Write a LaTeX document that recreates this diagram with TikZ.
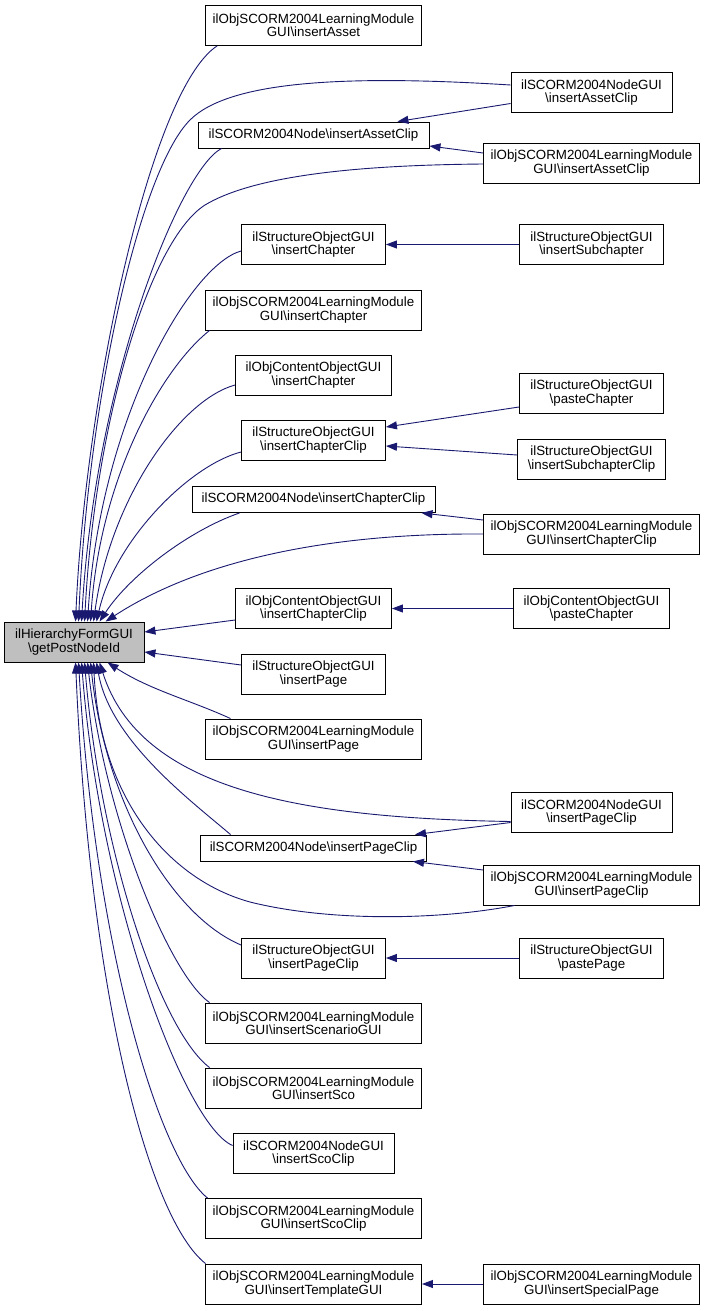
\documentclass[tikz,border=0pt]{standalone}
\usepackage{fontspec}
\setmainfont{Liberation Sans}
\usetikzlibrary{arrows.meta,calc}
\definecolor{navyline}{RGB}{25,25,112}
\definecolor{mainfill}{RGB}{191,191,191}
\begin{document}
\begin{tikzpicture}[x=1pt,y=-1pt,
  box/.style={draw=black, line width=0.9pt, fill=white, inner sep=0pt, align=center,
    minimum height=40pt, font=\fontsize{13.33}{13.33}\selectfont},
  onebox/.style={box, minimum height=26pt},
  conn/.style={draw=navyline, line width=0.9pt, -{Triangle[length=11pt,width=8pt]}}]
\useasboundingbox (0,0) rectangle (705,1311);
% nodes
\node[box, fill=mainfill, minimum width=140pt] (m) at (74,642) {ilHierarchyFormGUI\\\textbackslash getPostNodeId};
\node[box, minimum width=216pt] (n1) at (313.5,25.5) {ilObjSCORM2004LearningModule\\GUI\textbackslash insertAsset};
\node[box, minimum width=161pt] (n2) at (591.5,92.5) {ilSCORM2004NodeGUI\\\textbackslash insertAssetClip};
\node[onebox, minimum width=231pt] (n3) at (313.5,135) {ilSCORM2004Node\textbackslash insertAssetClip};
\node[box, minimum width=216pt] (n4) at (591.5,163) {ilObjSCORM2004LearningModule\\GUI\textbackslash insertAssetClip};
\node[box, minimum width=144pt] (n5) at (313.5,244.5) {ilStructureObjectGUI\\\textbackslash insertChapter};
\node[box, minimum width=144pt] (n6) at (591.5,244.5) {ilStructureObjectGUI\\\textbackslash insertSubchapter};
\node[box, minimum width=216pt] (n7) at (313.5,310) {ilObjSCORM2004LearningModule\\GUI\textbackslash insertChapter};
\node[box, minimum width=156pt] (n8) at (313.5,375) {ilObjContentObjectGUI\\\textbackslash insertChapter};
\node[box, minimum width=144pt] (n9) at (591.5,393) {ilStructureObjectGUI\\\textbackslash pasteChapter};
\node[box, minimum width=144pt] (n10) at (313.5,440) {ilStructureObjectGUI\\\textbackslash insertChapterClip};
\node[box, minimum width=148pt] (n11) at (591.5,459) {ilStructureObjectGUI\\\textbackslash insertSubchapterClip};
\node[onebox, minimum width=243pt] (n12) at (313.5,499.5) {ilSCORM2004Node\textbackslash insertChapterClip};
\node[box, minimum width=216pt] (n13) at (591.5,534) {ilObjSCORM2004LearningModule\\GUI\textbackslash insertChapterClip};
\node[box, minimum width=156pt] (n14) at (313.5,608.5) {ilObjContentObjectGUI\\\textbackslash insertChapterClip};
\node[box, minimum width=156pt] (n15) at (591.5,608.5) {ilObjContentObjectGUI\\\textbackslash pasteChapter};
\node[box, minimum width=144pt] (n17) at (313.5,674) {ilStructureObjectGUI\\\textbackslash insertPage};
\node[box, minimum width=216pt] (n18) at (313.5,739) {ilObjSCORM2004LearningModule\\GUI\textbackslash insertPage};
\node[box, minimum width=161pt] (n19) at (591.5,812.5) {ilSCORM2004NodeGUI\\\textbackslash insertPageClip};
\node[onebox, minimum width=226pt] (n20) at (313.5,848) {ilSCORM2004Node\textbackslash insertPageClip};
\node[box, minimum width=216pt] (n21) at (591.5,885) {ilObjSCORM2004LearningModule\\GUI\textbackslash insertPageClip};
\node[box, minimum width=144pt] (n22) at (313.5,958) {ilStructureObjectGUI\\\textbackslash insertPageClip};
\node[box, minimum width=144pt] (n23) at (591.5,958) {ilStructureObjectGUI\\\textbackslash pastePage};
\node[box, minimum width=216pt] (n24) at (313.5,1023) {ilObjSCORM2004LearningModule\\GUI\textbackslash insertScenarioGUI};
\node[box, minimum width=216pt] (n25) at (313.5,1088) {ilObjSCORM2004LearningModule\\GUI\textbackslash insertSco};
\node[box, minimum width=161pt] (n26) at (313.5,1153.5) {ilSCORM2004NodeGUI\\\textbackslash insertScoClip};
\node[box, minimum width=216pt] (n27) at (313.5,1218.5) {ilObjSCORM2004LearningModule\\GUI\textbackslash insertScoClip};
\node[box, minimum width=216pt] (n28) at (313.5,1284) {ilObjSCORM2004LearningModule\\GUI\textbackslash insertTemplateGUI};
\node[box, minimum width=216pt] (n29) at (591.5,1284) {ilObjSCORM2004LearningModule\\GUI\textbackslash insertSpecialPage};
% edges into main node from above
\draw[conn] ($(n1.south west)+(12,0)$) .. controls (150,90) and (85,400) .. ($(m.north west)+(72,0)$);
\draw[conn] ($(n2.west)+(0,-7.5)$) .. controls (350,75) and (230,80) .. (190,120) .. controls (140,170) and (88,400) .. ($(m.north west)+(75,0)$);
\draw[conn] ($(n3.south west)+(24,0)$) .. controls (180,170) and (95,380) .. ($(m.north west)+(78,0)$);
\draw[conn] ($(n4.west)+(0,1)$) .. controls (380,165) and (260,172) .. (205,205) .. controls (150,240) and (95,420) .. ($(m.north west)+(81,0)$);
\draw[conn] ($(n5.west)+(0,6.5)$) .. controls (190,265) and (100,420) .. ($(m.north west)+(84,0)$);
\draw[conn] ($(n7.south west)+(4.5,0)$) .. controls (160,370) and (100,480) .. ($(m.north west)+(87,0)$);
\draw[conn] ($(n8.west)+(0,10)$) .. controls (180,400) and (110,500) .. ($(m.north west)+(90,0)$);
\draw[conn] ($(n10.west)+(0,12)$) .. controls (190,465) and (115,540) .. ($(m.north west)+(93,0)$);
\draw[conn] ($(n12.south west)+(48,0)$) .. controls (190,530) and (130,575) .. ($(m.north west)+(96,0)$);
\draw[conn] (n13.west) .. controls (330,533) and (200,560) .. ($(m.north west)+(102,0)$);
\draw[conn] ($(n14.west)+(0,11.5)$) -- ($(m.east)+(0,-10)$);
% edges into main node from below
\draw[conn] ($(n17.west)+(0,-9)$) -- ($(m.east)+(0,10)$);
\draw[conn] ($(n18.north west)+(25.5,0)$) .. controls (190,700) and (150,690) .. ($(m.south west)+(104,0)$);
\draw[conn] ($(n19.west)+(0,9)$) .. controls (300,818) and (140,790) .. ($(m.south west)+(96,0)$);
\draw[conn] ($(n20.north west)+(30.5,0)$) .. controls (190,800) and (110,740) .. ($(m.south west)+(93,0)$);
\draw[conn] ($(n21.south west)+(31.5,0)$) .. controls (440,920) and (330,922) .. (250,902) .. controls (170,880) and (100,800) .. ($(m.south west)+(90,0)$);
\draw[conn] ($(n22.west)+(0,-13)$) .. controls (170,915) and (105,800) .. ($(m.south west)+(87,0)$);
\draw[conn] ($(n24.north west)+(4.5,0)$) .. controls (170,975) and (105,820) .. ($(m.south west)+(84,0)$);
\draw[conn] ($(n25.north west)+(4.5,0)$) .. controls (160,1030) and (100,850) .. ($(m.south west)+(81,0)$);
\draw[conn] ($(n26.west)+(0,-8)$) .. controls (185,1125) and (100,900) .. ($(m.south west)+(78,0)$);
\draw[conn] ($(n27.north west)+(2.5,0)$) .. controls (160,1160) and (95,950) .. ($(m.south west)+(75,0)$);
\draw[conn] ($(n28.north west)+(0.5,0)$) .. controls (150,1220) and (90,1000) .. ($(m.south west)+(72,0)$);
% edges between right and middle columns
\draw[conn] ($(n2.west)+(0,11)$) -- ($(n3.north east)+(-32,0)$);
\draw[conn] ($(n4.west)+(0,-10)$) -- ($(n3.east)+(0,11)$);
\draw[conn] (n6.west) -- (n5.east);
\draw[conn] ($(n9.west)+(0,14)$) -- ($(n10.east)+(0,-13)$);
\draw[conn] ($(n11.west)+(0,-4)$) -- ($(n10.east)+(0,6)$);
\draw[conn] ($(n13.west)+(0,-14)$) -- ($(n12.south east)+(-14,0)$);
\draw[conn] (n15.west) -- (n14.east);
\draw[conn] ($(n19.west)+(0,10)$) -- ($(n20.north east)+(-12,0)$);
\draw[conn] ($(n21.west)+(0,-15)$) -- ($(n20.south east)+(-14,0)$);
\draw[conn] (n23.west) -- (n22.east);
\draw[conn] (n29.west) -- (n28.east);
\end{tikzpicture}
\end{document}
